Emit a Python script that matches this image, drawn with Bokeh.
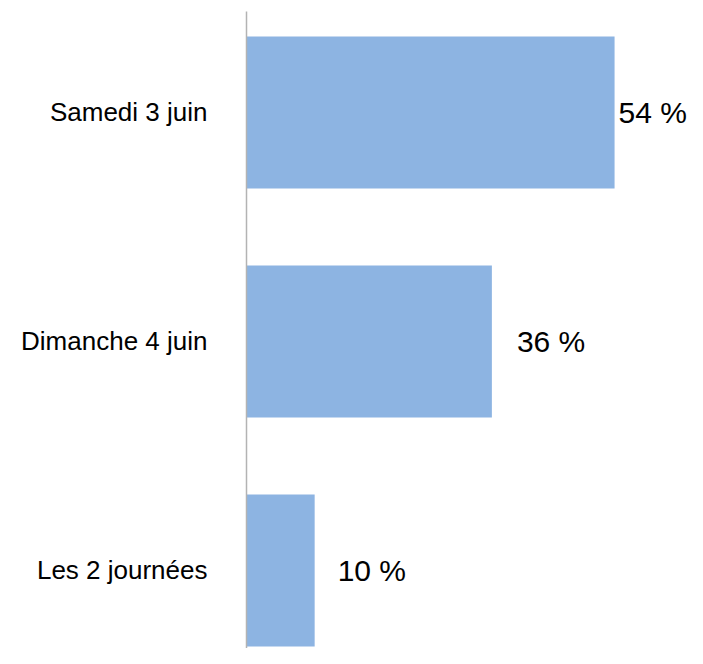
from bokeh.plotting import figure
from bokeh.models import ColumnDataSource, FixedTicker, Range1d
from bokeh.core.properties import value
from bokeh.embed import file_html
from bokeh.resources import INLINE

# Data
categories = ["Samedi 3 juin", "Dimanche 4 juin", "Les 2 journées"]
percentages = [54, 36, 10]
value_labels = ["54 %", "36 %", "10 %"]

# styles
label_offsets = [4, 25, 23]

n = len(categories)
ypos = [n - 1 - i for i in range(n)]  # top to bottom

src = ColumnDataSource(dict(
    y=ypos, pct=percentages, lab=value_labels, off=label_offsets,
))

p = figure(width=687, height=648, output_backend="svg", toolbar_location=None,
           x_range=Range1d(0, 64.7), y_range=Range1d(-0.341, 2.441),
           min_border_left=246, min_border_top=11, min_border_bottom=0,
           min_border_right=0)
p.outline_line_color = None
p.xgrid.visible = False
p.ygrid.visible = False
p.xaxis.visible = False
p.background_fill_color = "white"

p.hbar(y="y", right="pct", left=0, height=0.664, source=src,
       fill_color="#8DB4E2", line_color=None)

p.text(x="pct", y="y", text="lab", x_offset="off", source=src,
       text_font=value("Liberation Sans"), text_font_size="30px",
       text_baseline="middle", text_align="left", text_color="#000000")

ya = p.yaxis[0]
ya.ticker = FixedTicker(ticks=ypos)
ya.major_label_overrides = {y: c for y, c in zip(ypos, categories)}
ya.axis_line_color = "#b3b3b3"
ya.axis_line_width = 1.5
ya.major_tick_line_color = None
ya.minor_tick_line_color = None
ya.major_tick_out = 0
ya.major_tick_in = 0
ya.major_label_standoff = 39
ya.major_label_text_font = "Liberation Sans"
ya.major_label_text_font_size = "26px"
ya.major_label_text_color = "#000000"

open("out.html", "w").write(file_html(p, INLINE))
